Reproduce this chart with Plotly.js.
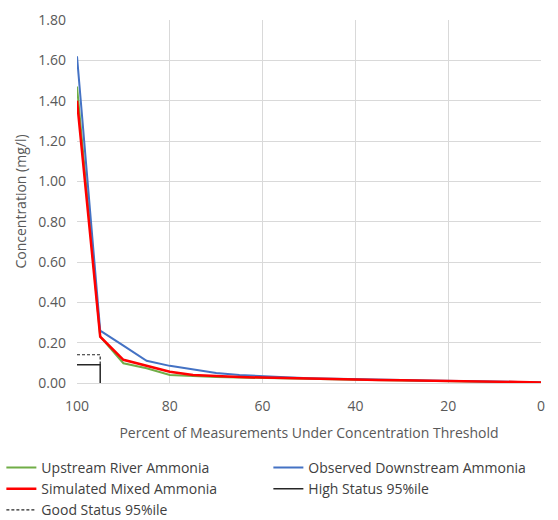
<!DOCTYPE html>
<html>
<head>
<meta charset="utf-8">
<script src="https://cdn.plot.ly/plotly-3.0.1.min.js"></script>
<style>html,body{margin:0;padding:0;background:#fff;}#chart{width:558px;height:520px;}</style>
</head>
<body>
<div id="chart"></div>
<script>
const percent = [100, 95, 90, 85, 80, 75, 70, 65, 60, 55, 50, 45, 40, 35, 30, 25, 20, 15, 10, 5, 0];
const upstream = [1.47, 0.23, 0.098, 0.073, 0.040, 0.034, 0.030, 0.027, 0.024, 0.022, 0.020, 0.018, 0.016, 0.014, 0.013, 0.012, 0.011, 0.009, 0.007, 0.004, 0.002];
const observed = [1.62, 0.26, 0.185, 0.110, 0.085, 0.068, 0.050, 0.040, 0.033, 0.028, 0.024, 0.021, 0.018, 0.016, 0.015, 0.013, 0.012, 0.010, 0.008, 0.005, 0.003];
const simulated = [1.40, 0.23, 0.115, 0.085, 0.056, 0.040, 0.034, 0.030, 0.027, 0.024, 0.022, 0.019, 0.017, 0.015, 0.014, 0.012, 0.011, 0.010, 0.008, 0.005, 0.003];
const highX = [100, 95, 95];
const highY = [0.09, 0.09, 0];
const goodX = [100, 95, 95];
const goodY = [0.14, 0.14, 0.09];

const font = {family: '"Open Sans", sans-serif', size: 14, color: '#595959'};
const traces = [
  {x: percent, y: upstream, mode: 'lines', name: 'Upstream River Ammonia', line: {color: '#70ad47', width: 2}},
  {x: percent, y: observed, mode: 'lines', name: 'Observed Downstream Ammonia', line: {color: '#4472c4', width: 2}},
  {x: percent, y: simulated, mode: 'lines', name: 'Simulated Mixed Ammonia', line: {color: '#ff0000', width: 2.5}},
  {x: highX, y: highY, mode: 'lines', name: 'High Status 95%ile', line: {color: '#262626', width: 1.5}},
  {x: goodX, y: goodY, mode: 'lines', name: 'Good Status 95%ile', line: {color: '#262626', width: 1.2, dash: '3px,2px'}}
];
const legendFont = {family: '"Open Sans", sans-serif', size: 14, color: '#404040'};
const layout = {
  width: 558, height: 520,
  margin: {l: 77, r: 17, t: 20, b: 137, autoexpand: false},
  paper_bgcolor: '#fff', plot_bgcolor: '#fff',
  font: font,
  showlegend: true,
  legend: {orientation: 'h', xref: 'paper', yref: 'paper', x: -0.163, xanchor: 'left', y: -0.19, yanchor: 'top',
           entrywidth: 222, entrywidthmode: 'pixels', font: legendFont, traceorder: 'normal', itemwidth: 30},
  xaxis: {
    range: [100, 0], dtick: 20, tick0: 0, showgrid: true, gridcolor: '#d9d9d9', gridwidth: 1, automargin: false,
    showline: true, linecolor: '#d9d9d9', zeroline: false, ticks: '', tickfont: font, ticklabelstandoff: 10,
    title: {text: 'Percent of Measurements Under Concentration Threshold', font: font, standoff: 14}
  },
  yaxis: {
    range: [0, 1.8], dtick: 0.2, tick0: 0, tickformat: '.2f', showgrid: true, gridcolor: '#d9d9d9', gridwidth: 1, automargin: false,
    showline: false, zeroline: false, ticks: '', tickfont: font, ticklabelstandoff: 10,
    title: {text: 'Concentration (mg/l)', font: font, standoff: 8}
  }
};
Plotly.newPlot('chart', traces, layout, {displayModeBar: false, staticPlot: true});
</script>
</body>
</html>
